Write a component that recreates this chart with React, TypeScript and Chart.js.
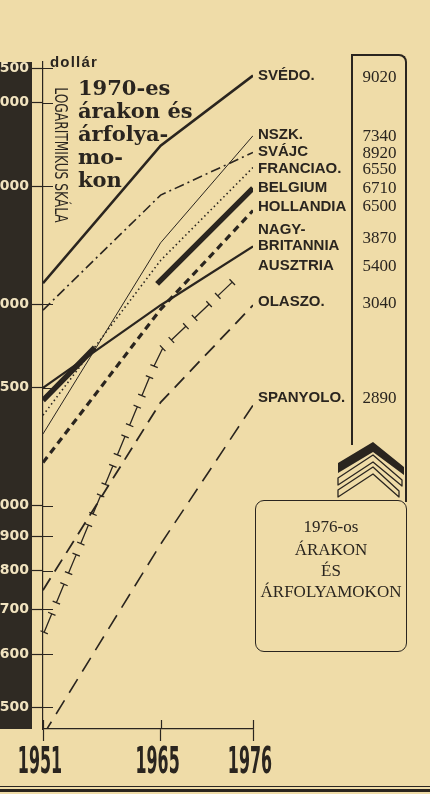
import React, { useEffect, useRef } from "react";
import { Chart, registerables } from "chart.js";

Chart.register(...registerables);

// ---- data ----
const years = [1951, 1965, 1976];
const yTicks = [500, 600, 700, 800, 900, 1000, 1500, 2000, 3000, 4000, 4500];

const svedo = [2150, 3450, 4390];
const svajc = [1960, 2910, 3370];
const nszk = [1280, 2470, 3570];
const francia = [1365, 2325, 3200];
const belgium = [1437, 2171, 2980];
const hollandia = [1160, 1965, 2760];
const nagyBritannia = [1500, 1993, 2440];
const ausztria = [641, 1707, 2309];
const olaszo = [748, 1427, 1993];
const spanyolo = [454, 876, 1413];

const countryNames = ["SVÉDO.", "NSZK.", "SVÁJC", "FRANCIAO.", "BELGIUM", "HOLLANDIA", "NAGY-", "BRITANNIA", "AUSZTRIA", "OLASZO.", "SPANYOLO."];
const values1976 = ["9020", "7340", "8920", "6550", "6710", "6500", "3870", "5400", "3040", "2890"];
const titleLines = ["1970-es", "árakon és", "árfolya-", "mo-", "kon"];
const boxLines = ["1976-os", "ÁRAKON", "ÉS", "ÁRFOLYAMOKON"];

const INK = "#2a251f";
const BG = "#efdca8";
const BAND = "#2f2a23";

const toXY = (arr: number[]) => years.map((x, i) => ({ x, y: arr[i] }));

const decorPlugin = {
  id: "decor",
  beforeDraw(chart: any) {
    const { ctx, chartArea } = chart;
    ctx.save();
    ctx.fillStyle = BAND;
    ctx.fillRect(0, chartArea.top, chartArea.left - 11, chartArea.bottom - chartArea.top);
    ctx.restore();
  },
  afterDraw(chart: any) {
    const { ctx, chartArea } = chart;
    const ys = chart.scales.y;
    const xs = chart.scales.x;
    ctx.save();
    ctx.strokeStyle = INK;
    ctx.lineWidth = 1.2;
    ctx.beginPath();
    ys.ticks.forEach((t: any) => {
      const y = Math.round(ys.getPixelForValue(t.value)) + 0.5;
      ctx.moveTo(chartArea.left, y);
      ctx.lineTo(chartArea.left + 10, y);
    });
    xs.ticks.forEach((t: any) => {
      const x = Math.round(xs.getPixelForValue(t.value)) + 0.5;
      ctx.moveTo(x, chartArea.bottom);
      ctx.lineTo(x, chartArea.bottom - 9);
    });
    ctx.stroke();
    // condensed year labels drawn at the x scale's tick positions
    ctx.fillStyle = INK;
    ctx.font = "bold 37px 'DejaVu Sans', sans-serif";
    ctx.textAlign = "center";
    ctx.textBaseline = "alphabetic";
    xs.ticks.forEach((t: any) => {
      const x = xs.getPixelForValue(t.value);
      ctx.save();
      ctx.translate(x - 3, chartArea.bottom + 44);
      ctx.scale(0.43, 1);
      ctx.fillText(String(t.value), 0, 0);
      ctx.restore();
    });
    ctx.restore();
  },
};

const ibeamPlugin = {
  id: "ibeam",
  afterDatasetsDraw(chart: any) {
    const ctx = chart.ctx;
    chart.data.datasets.forEach((ds: any, i: number) => {
      if (!ds.ibeam) return;
      const pts = chart.getDatasetMeta(i).data.map((p: any) => ({ x: p.x, y: p.y }));
      const segs: any[] = [];
      let total = 0;
      for (let k = 0; k < pts.length - 1; k++) {
        const a = pts[k], b = pts[k + 1];
        const len = Math.hypot(b.x - a.x, b.y - a.y);
        segs.push({ a, b, len, start: total });
        total += len;
      }
      const at = (s: number) => {
        let sg = segs[segs.length - 1];
        for (const g of segs) { if (s <= g.start + g.len) { sg = g; break; } }
        const t = (s - sg.start) / sg.len;
        const ux = (sg.b.x - sg.a.x) / sg.len, uy = (sg.b.y - sg.a.y) / sg.len;
        return { x: sg.a.x + (sg.b.x - sg.a.x) * t, y: sg.a.y + (sg.b.y - sg.a.y) * t, ux, uy };
      };
      ctx.save();
      ctx.strokeStyle = INK;
      ctx.lineWidth = 1.3;
      ctx.beginPath();
      for (let s = 3; s + 20 <= total; s += 32) {
        const p = at(s), q = at(s + 20);
        ctx.moveTo(p.x, p.y);
        ctx.lineTo(q.x, q.y);
        const c = 4;
        ctx.moveTo(p.x - p.uy * c, p.y + p.ux * c);
        ctx.lineTo(p.x + p.uy * c, p.y - p.ux * c);
        ctx.moveTo(q.x - q.uy * c, q.y + q.ux * c);
        ctx.lineTo(q.x + q.uy * c, q.y - q.ux * c);
      }
      ctx.stroke();
      ctx.restore();
    });
  },
};

function ChartCanvas() {
  const ref = useRef<HTMLCanvasElement | null>(null);
  useEffect(() => {
    if (!ref.current) return;
    const base = { pointRadius: 0, tension: 0, fill: false, borderColor: INK, borderCapStyle: "butt" as const };
    const chart = new Chart(ref.current, {
      type: "line",
      data: {
        datasets: [
          { ...base, label: "SVÉDO.", data: toXY(svedo), borderWidth: 2.6 },
          { ...base, label: "SVÁJC", data: toXY(svajc), borderWidth: 1.6, borderDash: [10, 4, 2, 4] },
          { ...base, label: "NSZK.", data: toXY(nszk), borderWidth: 1 },
          { ...base, label: "FRANCIAO.", data: toXY(francia), borderWidth: 1.6, borderDash: [1.5, 3] },
          { ...base, label: "BELGIUM", data: toXY(belgium), borderWidth: 5.5, borderDash: [74, 89, 400] },
          { ...base, label: "HOLLANDIA", data: toXY(hollandia), borderWidth: 3.2, borderDash: [7, 5] },
          { ...base, label: "NAGY-BRITANNIA", data: toXY(nagyBritannia), borderWidth: 2.2 },
          { ...base, label: "AUSZTRIA", data: toXY(ausztria), borderWidth: 0, borderColor: "rgba(0,0,0,0)", ibeam: true } as any,
          { ...base, label: "OLASZO.", data: toXY(olaszo), borderWidth: 1.8, borderDash: [14, 8] },
          { ...base, label: "SPANYOLO.", data: toXY(spanyolo), borderWidth: 1.6, borderDash: [16, 9] },
        ],
      },
      options: {
        animation: false,
        responsive: false,
        maintainAspectRatio: false,
        layout: { padding: { top: 62, right: 177, left: 0, bottom: 0 } },
        plugins: { legend: { display: false }, tooltip: { enabled: false } },
        scales: {
          x: {
            type: "linear",
            min: 1951,
            max: 1976,
            afterBuildTicks: (s: any) => { s.ticks = years.map((v) => ({ value: v })); },
            afterFit: (s: any) => { s.height = 65; },
            grid: { drawOnChartArea: false, tickLength: 12, color: INK, tickWidth: 1.2 },
            border: { color: INK, width: 1.2 },
            ticks: { display: false, autoSkip: false, maxRotation: 0 },
          },
          y: {
            type: "logarithmic",
            min: 464,
            max: 4600,
            afterBuildTicks: (s: any) => { s.ticks = yTicks.map((v) => ({ value: v })); },
            afterFit: (s: any) => { s.width = 43; },
            grid: { drawOnChartArea: false, tickLength: 11, color: INK, tickWidth: 1.2 },
            border: { color: INK, width: 1.2 },
            ticks: {
              color: "#f1e3bf",
              autoSkip: false,
              padding: 3,
              font: { family: "'DejaVu Sans', sans-serif", weight: "bold", size: 14 },
              callback: (v: any) => String(v),
            },
          },
        },
      },
      plugins: [decorPlugin, ibeamPlugin],
    } as any);
    return () => chart.destroy();
  }, []);
  return <canvas ref={ref} width={430} height={794} style={{ position: "absolute", left: 0, top: 0, display: "block" }} />;
}

const labelY = [75, 134, 151, 168, 187, 206, 229, 245, 265, 301, 397];
const valueY = [76, 135, 152, 168, 187, 205, 237, 265, 302, 397];
const boxY = [526, 549, 570, 591];

export default function App() {
  useEffect(() => {
    document.body.style.margin = "0";
    document.body.style.background = BG;
  }, []);
  const abs = (o: any) => ({ position: "absolute" as const, ...o });
  return (
    <div style={{ position: "fixed", left: 0, top: 0, width: 430, height: 794, background: BG, overflow: "hidden" }}>
      <svg width={430} height={794} style={{ position: "absolute", left: 0, top: 0 }}>
        <polygon points="338,463 373,442 404,467 404,475 373,452 338,473" fill={INK} />
        <polygon points="338,478 373,455 402,480 402,486 373,462 338,485" fill="none" stroke={INK} strokeWidth={1.3} strokeLinejoin="round" />
        <polygon points="338,490 373,467 399,491 399,497 373,474 338,497" fill="none" stroke={INK} strokeWidth={1.3} strokeLinejoin="round" />
      </svg>
      <div style={abs({ left: 351, top: 54, width: 2, height: 391, background: INK })} />
      <div style={abs({ left: 351, top: 54, width: 54, height: 446, borderTop: `2px solid ${INK}`, borderRight: `2px solid ${INK}`, borderTopRightRadius: 8 })} />
      <div style={abs({ left: 255, top: 500, width: 150, height: 150, border: `1.5px solid ${INK}`, borderRadius: 9 })} />
      <div style={abs({ left: 0, top: 786, width: 430, height: 1, background: INK })} />
      <div style={abs({ left: 0, top: 789, width: 430, height: 3, background: INK })} />
      <ChartCanvas />
      <div style={abs({ left: 50, top: 54, font: "bold 15px 'Liberation Sans', sans-serif", letterSpacing: 1.2, color: INK, lineHeight: "15px" })}>dollár</div>
      <div style={abs({ left: 60, top: 155, transform: "translate(-50%,-50%) rotate(90deg) scaleX(0.72)", whiteSpace: "nowrap", font: "17px 'DejaVu Sans', sans-serif", color: INK, lineHeight: "17px" })}>LOGARITMIKUS SKÁLA</div>
      <div style={abs({ left: 78, top: 76, font: "bold 21px 'DejaVu Serif', serif", lineHeight: "23px", color: INK, whiteSpace: "nowrap" })}>
        {titleLines.map((t, i) => <div key={i}>{t}</div>)}
      </div>
      {countryNames.map((n, i) => (
        <div key={n} style={abs({ left: 258, top: labelY[i] - 9, height: 18, lineHeight: "18px", font: "bold 15px 'Liberation Sans', sans-serif", color: INK, whiteSpace: "nowrap" })}>{n}</div>
      ))}
      {values1976.map((v, i) => (
        <div key={i} style={abs({ left: 352, top: valueY[i] - 9, width: 55, textAlign: "center", height: 18, lineHeight: "18px", font: "17px 'Liberation Serif', serif", color: INK })}>{v}</div>
      ))}
      {boxLines.map((t, i) => (
        <div key={i} style={abs({ left: 255, top: boxY[i] - 9, width: 152, textAlign: "center", height: 18, lineHeight: "18px", font: "17px 'Liberation Serif', serif", color: INK, whiteSpace: "nowrap" })}>{t}</div>
      ))}
    </div>
  );
}
